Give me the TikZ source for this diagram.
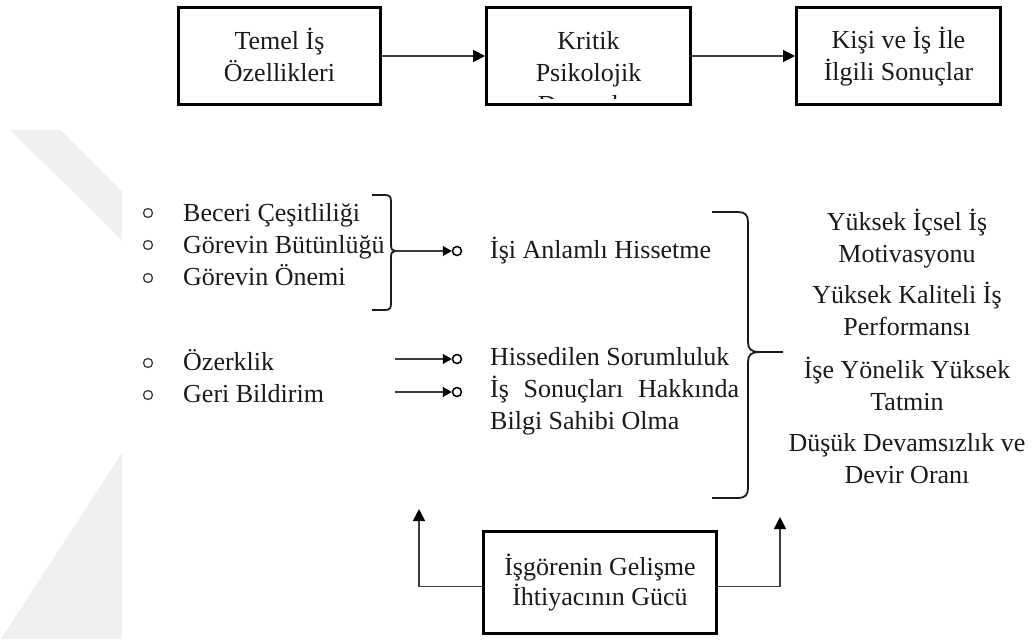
\documentclass[tikz,border=0pt]{standalone}
\usepackage{fontspec}
\setmainfont{Liberation Serif}
\usetikzlibrary{arrows.meta}
\definecolor{ink}{HTML}{1A1A1A}
\definecolor{wire}{HTML}{3C3C3C}
\definecolor{wm}{HTML}{F0F0F0}
\begin{document}
\begin{tikzpicture}[x=1pt,y=-1pt,
  every node/.style={inner sep=0pt, text=ink},
  lbl/.style={font=\fontsize{26}{32}\selectfont},
  boxnode/.style={draw=black, line width=2.8pt},
  conn/.style={draw=wire, line width=1.4pt, -{Triangle[length=12pt,width=12pt,color=black]}},
  sconn/.style={draw=wire, line width=1.4pt, -{Triangle[length=9pt,width=10pt,color=black]}},
  dot/.style={circle, draw=wire, line width=1.3pt, minimum size=9pt},
  ring/.style={circle, draw=black, line width=1.5pt, minimum size=9pt},
  bracestroke/.style={draw=ink, line width=1.8pt},
]
\useasboundingbox (0,0) rectangle (1032,639);
\fill[white] (0,0) rectangle (1032,639);
% watermark
\fill[wm] (10,130) -- (60,130) -- (122,192) -- (122,240) -- cycle;
\fill[wm] (122,453) -- (122,639) -- (1,639) -- cycle;

% top row (text nodes anchored at the baseline of their last line)
\node[boxnode, minimum width=202pt, minimum height=97pt] (b1) at (279.5,56) {};
\node[lbl, align=center, anchor=base] (b1t) at (279.5,82) {Temel İş\\Özellikleri};
\node[boxnode, minimum width=204pt, minimum height=97pt] (b2) at (588.5,56) {};
\begin{scope}
  \clip (488,9) rectangle (689,99);
  \node[lbl, align=center, anchor=base] (b2t) at (588.5,114) {Kritik\\Psikolojik\\Durumlar};
\end{scope}
\node[boxnode, minimum width=204pt, minimum height=97pt] (b3) at (898.5,56) {};
\node[lbl, align=center, anchor=base] (b3t) at (898.5,81) {Kişi ve İş İle\\İlgili Sonuçlar};
\draw[conn] (b1) -- (b2);
\draw[conn] (b2) -- (b3);

% left lists
\node[dot] (u1) at (148,213) {};
\node[dot] (u2) at (148,245) {};
\node[dot] (u3) at (148,278) {};
\node[lbl, anchor=base west, align=left] (g1) at (183,285) {Beceri Çeşitliliği\\Görevin Bütünlüğü\\Görevin Önemi};
\node[dot] (u4) at (148,363) {};
\node[dot] (u5) at (148,395) {};
\node[lbl, anchor=base west, align=left] (g2) at (183,402.5) {Özerklik\\Geri Bildirim};

% bracket 1
\coordinate (t1) at (395,251);
\draw[bracestroke] (372,195) -- (385,195) .. controls (390,195) and (391,197) .. (391,202) -- (391,244)
  .. controls (391,249) and (392,251) .. (t1);
\draw[bracestroke] (t1) .. controls (392,251) and (391,253) .. (391,258) -- (391,303)
  .. controls (391,308) and (390,310) .. (385,310) -- (372,310);

% middle
\node[ring] (r1) at (457,251) {};
\draw[sconn] (t1) -- (r1);
\coordinate (s2) at (395,359);
\coordinate (s3) at (395,392);
\node[ring] (r2) at (457,359) {};
\node[ring] (r3) at (457,392) {};
\draw[sconn] (s2) -- (r2);
\draw[sconn] (s3) -- (r3);
\node[lbl, anchor=base west] (m1) at (490,258) {İşi Anlamlı Hissetme};
\node[lbl, anchor=base west] (m2) at (490,365.5) {Hissedilen Sorumluluk};
\node[lbl, anchor=base west] (m3) at (490,397.5) {\makebox[249pt][s]{İş Sonuçları Hakkında}};
\node[lbl, anchor=base west] (m4) at (490,429.5) {Bilgi Sahibi Olma};

% bracket 2
\coordinate (t2) at (760,352);
\coordinate (t2e) at (783,352);
\draw[bracestroke] (712,212) -- (738,212) .. controls (745,212) and (748,215) .. (748,222) -- (748,342)
  .. controls (748,349) and (751,352) .. (t2) -- (t2e);
\draw[bracestroke] (t2) .. controls (751,352) and (748,355) .. (748,362) -- (748,488)
  .. controls (748,495) and (745,498) .. (738,498) -- (712,498);

% outcomes
\node[lbl, align=center, anchor=base] (o1) at (907,262) {Yüksek İçsel İş\\Motivasyonu};
\node[lbl, align=center, anchor=base] (o2) at (907,335) {Yüksek Kaliteli İş\\Performansı};
\node[lbl, align=center, anchor=base] (o3) at (907,410) {İşe Yönelik Yüksek\\Tatmin};
\node[lbl, align=center, anchor=base] (o4) at (907,483) {Düşük Devamsızlık ve\\Devir Oranı};

% bottom box
\node[boxnode, minimum width=233pt, minimum height=102pt] (b4) at (600,582.5) {};
\node[font=\fontsize{26}{30}\selectfont, align=center, anchor=base] (b4t) at (600,605) {İşgörenin Gelişme\\İhtiyacının Gücü};
\coordinate (ul) at (419,509);
\coordinate (ur) at (780,517);
\draw[conn] ([yshift=-4pt]b4.west) -| (ul);
\draw[conn] ([yshift=-4pt]b4.east) -| (ur);
\end{tikzpicture}
\end{document}
